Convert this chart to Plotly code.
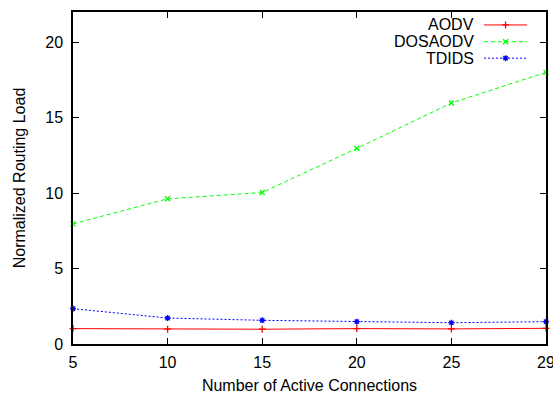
import plotly.graph_objects as go

# Number of active connections (x categories)
connections = ["5", "10", "15", "20", "25", "29"]

# Normalized routing load per protocol
aodv = [1.02, 0.98, 0.98, 1.02, 1.00, 1.04]
dosaodv = [7.96, 9.62, 10.04, 12.96, 15.97, 18.0]
tdids = [2.34, 1.72, 1.57, 1.48, 1.41, 1.48]

series = [
    ("AODV", aodv, "#ff0000", "solid", "cross-thin-open"),
    ("DOSAODV", dosaodv, "#00ff00", "4px,3px", "x-thin-open"),
    ("TDIDS", tdids, "#0000ff", "2px,2px", "asterisk-open"),
]

FONT = "Liberation Sans, Arial, Helvetica, sans-serif"
FS = 16

fig = go.Figure()

for name, vals, color, dash, sym in series:
    fig.add_trace(go.Scatter(
        x=connections, y=vals, mode="lines+markers", name=name,
        line=dict(color=color, width=1, dash=dash),
        marker=dict(symbol=sym, size=5, color=color, line=dict(color=color, width=1.3)),
        showlegend=False, cliponaxis=False,
    ))

# Key in the upper right: label text right-aligned, sample line to its right
key_rows = [0.961, 0.9106, 0.861]
for (name, vals, color, dash, sym), ky in zip(series, key_rows):
    fig.add_trace(go.Scatter(
        x=[0.869, 0.9145, 0.960], y=[ky, ky, ky], xaxis="x2", yaxis="y2",
        mode="lines", line=dict(color=color, width=1, dash=dash),
        showlegend=False, hoverinfo="skip",
    ))
    fig.add_trace(go.Scatter(
        x=[0.9145], y=[ky], xaxis="x2", yaxis="y2", mode="markers",
        marker=dict(symbol=sym, size=5, color=color, line=dict(color=color, width=1.3)),
        showlegend=False, hoverinfo="skip",
    ))
    fig.add_annotation(
        x=0.852, y=ky, xref="x domain", yref="y domain", text=name,
        showarrow=False, xanchor="right", yanchor="middle",
        font=dict(family=FONT, size=FS, color="black"),
    )

axis_common = dict(
    showline=True, linecolor="black", linewidth=1.5, mirror="allticks",
    ticks="inside", ticklen=6, tickwidth=1, tickcolor="black",
    showgrid=False, zeroline=False, automargin=False,
    tickfont=dict(family=FONT, size=FS, color="black"),
    title_font=dict(family=FONT, size=FS, color="black"),
)

fig.update_layout(
    width=553, height=396,
    margin=dict(l=73, r=7, t=12, b=52),
    plot_bgcolor="white", paper_bgcolor="white",
    xaxis=dict(
        type="category", range=[0, 5],
        title=dict(text="Number of Active Connections", standoff=10),
        ticklabelstandoff=3, **axis_common,
    ),
    yaxis=dict(
        range=[0, 22], tickvals=[0, 5, 10, 15, 20],
        title=dict(text="Normalized Routing Load", standoff=16),
        ticklabelstandoff=5, **axis_common,
    ),
    xaxis2=dict(overlaying="x", range=[0, 1], visible=False, fixedrange=True),
    yaxis2=dict(overlaying="y", range=[0, 1], visible=False, fixedrange=True),
)

fig.write_html("out.html")
